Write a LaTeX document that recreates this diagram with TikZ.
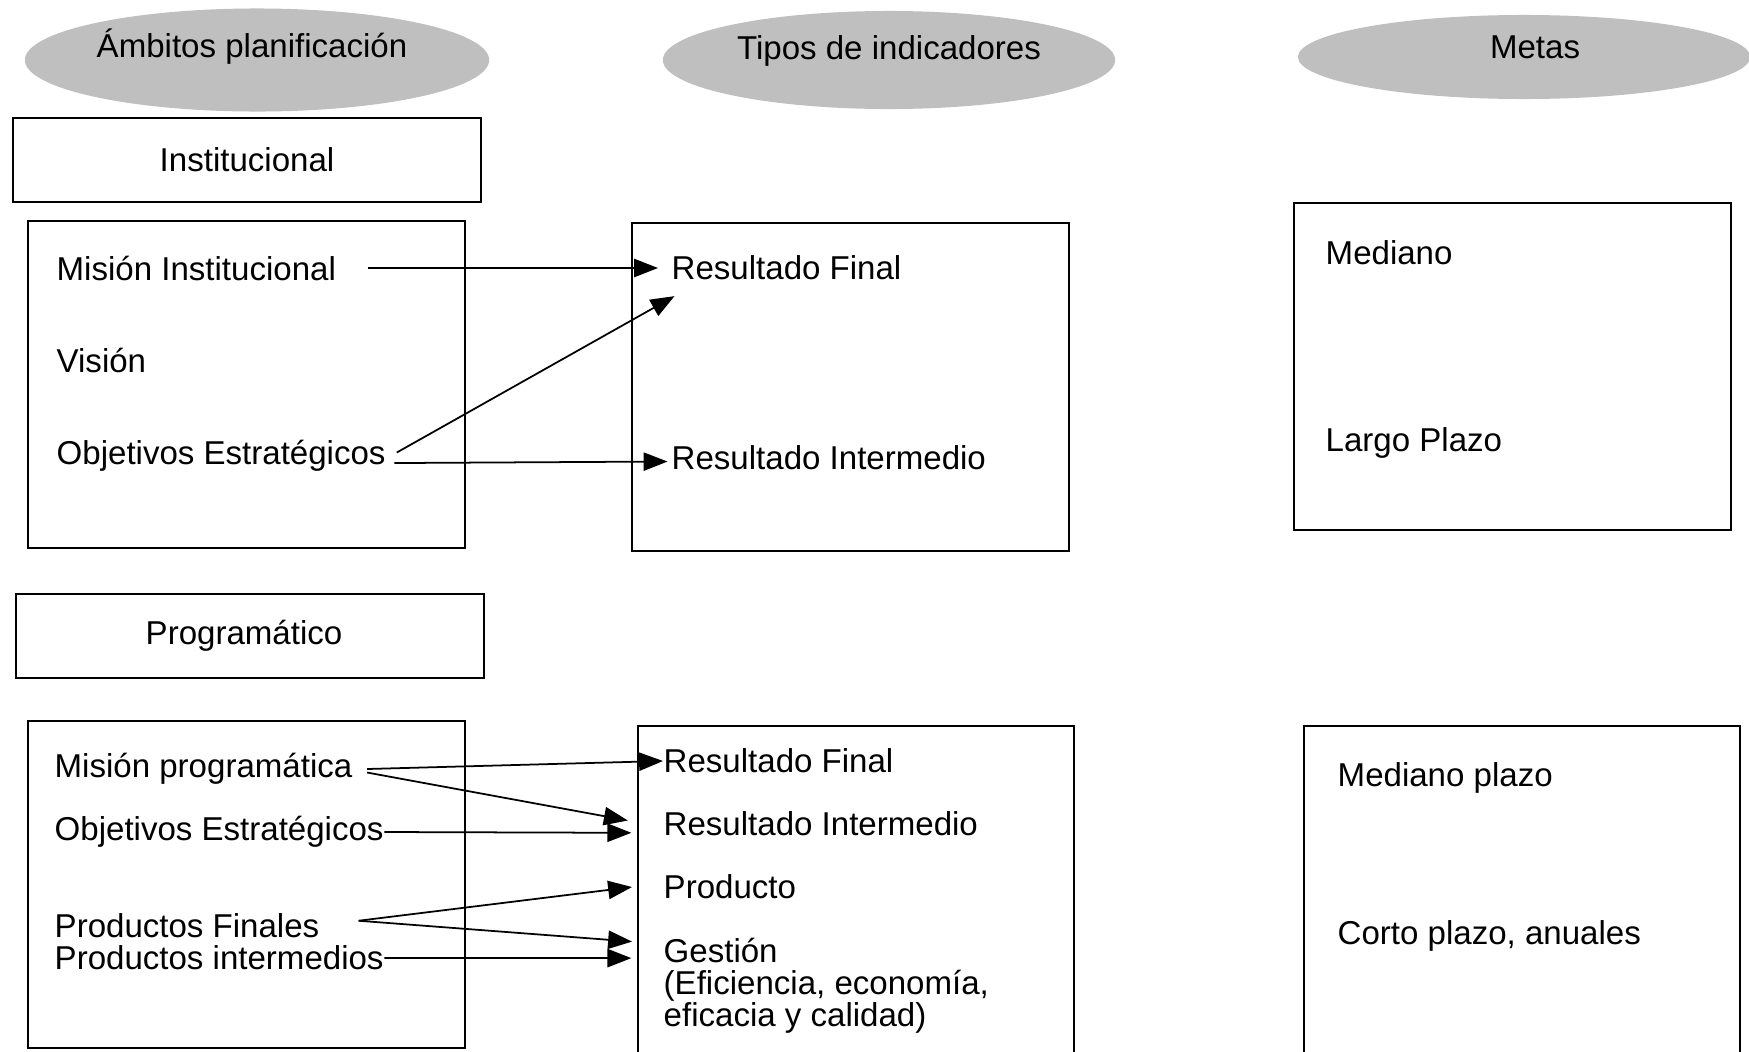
\documentclass[tikz,border=0pt]{standalone}
\usepackage{fontspec}
\setmainfont{Liberation Sans}
\usetikzlibrary{arrows.meta,shapes.geometric}

\begin{document}
\begin{tikzpicture}[x=0.01cm,y=-0.01cm]
            \tikzset{
                cabecera/.style={ellipse,fill=gray!50,draw=none,minimum width=4.6cm,minimum height=1cm},
                caja/.style={draw=black,line width=0.6pt,rectangle},
                texto/.style={anchor=west,inner sep=0pt,font=\fontsize{9.4}{11}\selectfont},
                titulo/.style={inner sep=0pt,font=\fontsize{9.4}{11}\selectfont},
                flecha/.style={-{Triangle[length=6.8pt,width=5.2pt]},line width=0.5pt}
            }
            \useasboundingbox (0,0) rectangle (1749,1051);

            % cabeceras
            \node[cabecera,minimum width=4.64cm,minimum height=1.03cm] (amb) at (257,60) {};
            \node[cabecera,minimum width=4.52cm,minimum height=0.98cm] (tip) at (889,60) {};
            \node[cabecera,minimum width=4.52cm,minimum height=0.84cm] (met) at (1524,57) {};
            \node[titulo] (ambt) at (252,47) {Ámbitos planificación};
            \node[titulo] (tipt) at (889,51) {Tipos de indicadores};
            \node[titulo] (mett) at (1535,47) {Metas};

            % cajas
            \draw[caja] (13,118) rectangle (481,202);
            \node[titulo] (inst) at (247,160) {Institucional};
            \draw[caja] (28,221) rectangle (465,548);
            \draw[caja] (632,223) rectangle (1069,551);
            \draw[caja] (1294,203) rectangle (1731,530);

            \draw[caja] (16,594) rectangle (484,678);
            \node[titulo] (prog) at (244,636) {Programático};
            \draw[caja] (28,721) rectangle (465,1048);
            \draw[caja] (638,1060) -- (638,726) -- (1074,726) -- (1074,1060);
            \draw[caja] (1304,1060) -- (1304,726) -- (1740,726) -- (1740,1060);

            % arriba
            \node[texto] (misi) at (56,268) {Misión Institucional};
            \node[texto] (vis) at (56,360) {Visión};
            \node[texto] (obj1) at (56,456) {Objetivos Estratégicos};
            \node[texto] (rf1) at (671,268) {Resultado Final};
            \node[texto] (ri1) at (671,458) {Resultado Intermedio};
            \node[texto] (med) at (1325,253) {Mediano};
            \node[texto] (lar) at (1325,443) {Largo Plazo};

            % abajo
            \node[texto] (misp) at (54,769) {Misión programática};
            \node[texto] (obj2) at (54,832) {Objetivos Estratégicos};
            \node[texto] (pfin) at (54,926) {Productos Finales};
            \node[texto] (pint) at (54,958) {Productos intermedios};
            \node[texto] (rf2) at (663,761) {Resultado Final};
            \node[texto] (ri2) at (663,824) {Resultado Intermedio};
            \node[texto] (prod) at (663,887) {Producto};
            \node[texto,anchor=north west,align=left,font=\fontsize{9.4}{9.1}\selectfont] (gest) at (663,937) {Gestión\\(Eficiencia, economía,\\eficacia y calidad)};
            \node[texto] (medp) at (1337,778) {Mediano plazo};
            \node[texto] (cort) at (1337,936) {Corto plazo, anuales};

            \draw[flecha] ([xshift=8.8pt]misi.east) -- ([xshift=-3.7pt]rf1.west);
            \draw[flecha] ([xshift=3pt,yshift=1pt]obj1.east) -- ([xshift=1pt,yshift=-8pt]rf1.west);
            \draw[flecha] ([xshift=2.3pt,yshift=-2pt]obj1.east) -- ([xshift=-1pt,yshift=-1pt]ri1.west);

            \draw[flecha] ([xshift=4pt]misp.east) -- ([xshift=0pt]rf2.west);
            \draw[flecha] ([xshift=4pt,yshift=-1pt]misp.east) -- ([xshift=-10pt,yshift=1pt]ri2.west);
            \draw[flecha] (obj2.east) -- ([xshift=-9pt,yshift=-2.5pt]ri2.west);
            \draw[flecha] ([xshift=11pt,yshift=1.5pt]pfin.east) -- ([xshift=-8.8pt]prod.west);
            \draw[flecha] ([xshift=11pt,yshift=1.5pt]pfin.east) -- ([xshift=-8.8pt,yshift=-1.3pt]gest.north west);
            \draw[flecha] (pint.east) -- ([xshift=-9pt,yshift=-6pt]gest.north west);
        \end{tikzpicture}
\end{document}
